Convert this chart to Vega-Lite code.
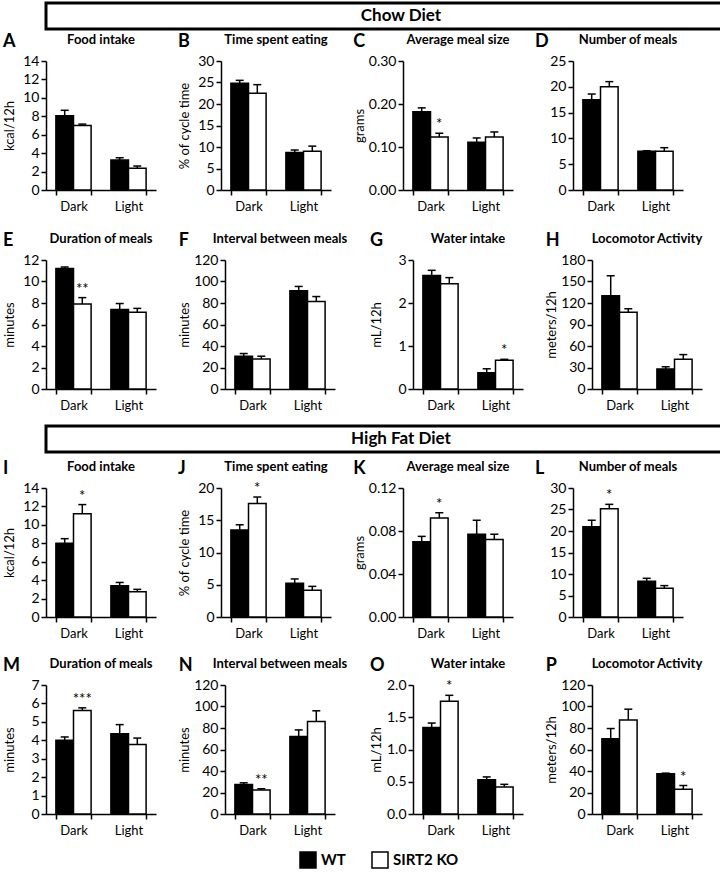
{
  "$schema": "https://vega.github.io/schema/vega-lite/v6.json",
  "padding": {"left": 3, "right": 3, "top": 1, "bottom": 0},
  "background": "white",
  "config": {
    "font": "Lato",
    "view": {"stroke": null},
    "text": {"color": "black"},
    "axis": {"labelFont": "Lato", "titleFont": "Lato", "labelColor": "black", "titleColor": "black", "domainColor": "black", "tickColor": "black", "domainWidth": 1.5, "tickWidth": 1.5, "tickSize": 5, "grid": false, "labelFontSize": 13, "titleFontSize": 13, "titleFontWeight": "normal", "labelOverlap": false},
    "axisX": {"tickBand": "extent", "labelAngle": 0, "labelPadding": 5, "title": null},
    "axisY": {"minExtent": 28, "titlePadding": 2, "labelPadding": 2, "labelFontSize": 14, "labelOverlap": false},
    "title": {"font": "Lato", "color": "black"}
  },
  "datasets": {
    "d": [
      {"p": "A", "period": "Dark", "g": "WT", "mean": 8.05, "hi": 8.65, "star": ""},
      {"p": "A", "period": "Dark", "g": "SIRT2 KO", "mean": 7.0, "hi": 7.15, "star": ""},
      {"p": "A", "period": "Light", "g": "WT", "mean": 3.25, "hi": 3.5, "star": ""},
      {"p": "A", "period": "Light", "g": "SIRT2 KO", "mean": 2.35, "hi": 2.6, "star": ""},
      {"p": "B", "period": "Dark", "g": "WT", "mean": 24.8, "hi": 25.5, "star": ""},
      {"p": "B", "period": "Dark", "g": "SIRT2 KO", "mean": 22.5, "hi": 24.5, "star": ""},
      {"p": "B", "period": "Light", "g": "WT", "mean": 8.7, "hi": 9.3, "star": ""},
      {"p": "B", "period": "Light", "g": "SIRT2 KO", "mean": 9.0, "hi": 10.2, "star": ""},
      {"p": "C", "period": "Dark", "g": "WT", "mean": 0.182, "hi": 0.191, "star": ""},
      {"p": "C", "period": "Dark", "g": "SIRT2 KO", "mean": 0.123, "hi": 0.132, "star": "*"},
      {"p": "C", "period": "Light", "g": "WT", "mean": 0.111, "hi": 0.121, "star": ""},
      {"p": "C", "period": "Light", "g": "SIRT2 KO", "mean": 0.123, "hi": 0.135, "star": ""},
      {"p": "D", "period": "Dark", "g": "WT", "mean": 17.5, "hi": 18.6, "star": ""},
      {"p": "D", "period": "Dark", "g": "SIRT2 KO", "mean": 20.0, "hi": 21.0, "star": ""},
      {"p": "D", "period": "Light", "g": "WT", "mean": 7.5, "hi": 7.6, "star": ""},
      {"p": "D", "period": "Light", "g": "SIRT2 KO", "mean": 7.5, "hi": 8.2, "star": ""},
      {"p": "E", "period": "Dark", "g": "WT", "mean": 11.2, "hi": 11.35, "star": ""},
      {"p": "E", "period": "Dark", "g": "SIRT2 KO", "mean": 7.9, "hi": 8.5, "star": "**"},
      {"p": "E", "period": "Light", "g": "WT", "mean": 7.4, "hi": 7.95, "star": ""},
      {"p": "E", "period": "Light", "g": "SIRT2 KO", "mean": 7.15, "hi": 7.5, "star": ""},
      {"p": "F", "period": "Dark", "g": "WT", "mean": 30.5, "hi": 33.0, "star": ""},
      {"p": "F", "period": "Dark", "g": "SIRT2 KO", "mean": 28.0, "hi": 30.5, "star": ""},
      {"p": "F", "period": "Light", "g": "WT", "mean": 91.4, "hi": 95.4, "star": ""},
      {"p": "F", "period": "Light", "g": "SIRT2 KO", "mean": 81.5, "hi": 86.0, "star": ""},
      {"p": "G", "period": "Dark", "g": "WT", "mean": 2.64, "hi": 2.76, "star": ""},
      {"p": "G", "period": "Dark", "g": "SIRT2 KO", "mean": 2.45, "hi": 2.59, "star": ""},
      {"p": "G", "period": "Light", "g": "WT", "mean": 0.38, "hi": 0.47, "star": ""},
      {"p": "G", "period": "Light", "g": "SIRT2 KO", "mean": 0.67, "hi": 0.69, "star": "*"},
      {"p": "H", "period": "Dark", "g": "WT", "mean": 130, "hi": 158, "star": ""},
      {"p": "H", "period": "Dark", "g": "SIRT2 KO", "mean": 107, "hi": 112, "star": ""},
      {"p": "H", "period": "Light", "g": "WT", "mean": 28, "hi": 31, "star": ""},
      {"p": "H", "period": "Light", "g": "SIRT2 KO", "mean": 41.5, "hi": 48, "star": ""},
      {"p": "I", "period": "Dark", "g": "WT", "mean": 8.0, "hi": 8.5, "star": ""},
      {"p": "I", "period": "Dark", "g": "SIRT2 KO", "mean": 11.2, "hi": 12.2, "star": "*"},
      {"p": "I", "period": "Light", "g": "WT", "mean": 3.4, "hi": 3.75, "star": ""},
      {"p": "I", "period": "Light", "g": "SIRT2 KO", "mean": 2.75, "hi": 3.0, "star": ""},
      {"p": "J", "period": "Dark", "g": "WT", "mean": 13.5, "hi": 14.3, "star": ""},
      {"p": "J", "period": "Dark", "g": "SIRT2 KO", "mean": 17.6, "hi": 18.6, "star": "*"},
      {"p": "J", "period": "Light", "g": "WT", "mean": 5.25, "hi": 5.9, "star": ""},
      {"p": "J", "period": "Light", "g": "SIRT2 KO", "mean": 4.15, "hi": 4.75, "star": ""},
      {"p": "K", "period": "Dark", "g": "WT", "mean": 0.070, "hi": 0.075, "star": ""},
      {"p": "K", "period": "Dark", "g": "SIRT2 KO", "mean": 0.092, "hi": 0.097, "star": "*"},
      {"p": "K", "period": "Light", "g": "WT", "mean": 0.077, "hi": 0.090, "star": ""},
      {"p": "K", "period": "Light", "g": "SIRT2 KO", "mean": 0.072, "hi": 0.077, "star": ""},
      {"p": "L", "period": "Dark", "g": "WT", "mean": 21.0, "hi": 22.5, "star": ""},
      {"p": "L", "period": "Dark", "g": "SIRT2 KO", "mean": 25.2, "hi": 26.2, "star": "*"},
      {"p": "L", "period": "Light", "g": "WT", "mean": 8.3, "hi": 9.0, "star": ""},
      {"p": "L", "period": "Light", "g": "SIRT2 KO", "mean": 6.7, "hi": 7.3, "star": ""},
      {"p": "M", "period": "Dark", "g": "WT", "mean": 4.0, "hi": 4.18, "star": ""},
      {"p": "M", "period": "Dark", "g": "SIRT2 KO", "mean": 5.62, "hi": 5.76, "star": "***"},
      {"p": "M", "period": "Light", "g": "WT", "mean": 4.35, "hi": 4.85, "star": ""},
      {"p": "M", "period": "Light", "g": "SIRT2 KO", "mean": 3.77, "hi": 4.12, "star": ""},
      {"p": "N", "period": "Dark", "g": "WT", "mean": 27.5, "hi": 29.0, "star": ""},
      {"p": "N", "period": "Dark", "g": "SIRT2 KO", "mean": 22.3, "hi": 23.5, "star": "**"},
      {"p": "N", "period": "Light", "g": "WT", "mean": 72.0, "hi": 78.2, "star": ""},
      {"p": "N", "period": "Light", "g": "SIRT2 KO", "mean": 86.0, "hi": 96.0, "star": ""},
      {"p": "O", "period": "Dark", "g": "WT", "mean": 1.34, "hi": 1.41, "star": ""},
      {"p": "O", "period": "Dark", "g": "SIRT2 KO", "mean": 1.75, "hi": 1.84, "star": "*"},
      {"p": "O", "period": "Light", "g": "WT", "mean": 0.53, "hi": 0.575, "star": ""},
      {"p": "O", "period": "Light", "g": "SIRT2 KO", "mean": 0.42, "hi": 0.46, "star": ""},
      {"p": "P", "period": "Dark", "g": "WT", "mean": 70.0, "hi": 79.5, "star": ""},
      {"p": "P", "period": "Dark", "g": "SIRT2 KO", "mean": 87.5, "hi": 97.5, "star": ""},
      {"p": "P", "period": "Light", "g": "WT", "mean": 37.5, "hi": 38.0, "star": ""},
      {"p": "P", "period": "Light", "g": "SIRT2 KO", "mean": 23.0, "hi": 26.5, "star": "*"}
    ]
  },
  "columns": 1,
  "align": "none",
  "spacing": 12,
  "concat": [
    {"columns": 1, "align": "none", "spacing": 2, "concat": [
      {"width": 710, "height": 26, "view": {"stroke": "black", "strokeWidth": 3}, "data": {"values": [{"label": "Chow Diet"}]}, "mark": {"type": "text", "fontSize": 17, "fontWeight": "bold", "font": "Lato"}, "encoding": {"text": {"field": "label"}}},
      {"spacing": 19, "vconcat": [
        {"spacing": 22, "hconcat": [
          {"title": {"text": "A", "anchor": "start", "fontSize": 18, "fontWeight": "bold", "offset": -17}, "vconcat": [{"width": 110, "height": 129, "title": {"text": "Food intake", "frame": "group", "anchor": "middle", "fontSize": 13, "fontWeight": "bold", "offset": 7}, "data": {"name": "d"}, "transform": [{"filter": "datum.p == 'A'"}],
            "encoding": {"x": {"field": "period", "type": "nominal", "sort": ["Dark", "Light"], "scale": {"paddingInner": 0.36, "paddingOuter": 0.18}}, "xOffset": {"field": "g", "type": "nominal", "sort": ["WT", "SIRT2 KO"]}},
            "layer": [
              {"mark": {"type": "bar", "stroke": "black", "strokeWidth": 1.5}, "encoding": {"y": {"field": "mean", "type": "quantitative", "scale": {"domain": [0, 14], "nice": false}, "axis": {"values": [0, 2, 4, 6, 8, 10, 12, 14], "title": "kcal/12h"}}, "fill": {"field": "g", "type": "nominal", "scale": {"domain": ["WT", "SIRT2 KO"], "range": ["black", "white"]}, "legend": null}}},
              {"mark": {"type": "rule", "strokeWidth": 1.5, "color": "black"}, "encoding": {"y": {"field": "mean", "type": "quantitative", "axis": {"values": [0, 2, 4, 6, 8, 10, 12, 14], "title": "kcal/12h"}}, "y2": {"field": "hi"}}},
              {"mark": {"type": "tick", "thickness": 1.5, "size": 8, "color": "black", "orient": "horizontal", "opacity": 1}, "encoding": {"y": {"field": "hi", "type": "quantitative", "axis": {"values": [0, 2, 4, 6, 8, 10, 12, 14], "title": "kcal/12h"}}}},
              {"transform": [{"filter": "datum.star != ''"}], "mark": {"type": "text", "baseline": "bottom", "dy": -1, "fontSize": 15, "color": "black"}, "encoding": {"y": {"field": "hi", "type": "quantitative", "axis": {"values": [0, 2, 4, 6, 8, 10, 12, 14], "title": "kcal/12h"}}, "text": {"field": "star"}}}
            ]}]},
          {"title": {"text": "B", "anchor": "start", "fontSize": 18, "fontWeight": "bold", "offset": -17}, "vconcat": [{"width": 110, "height": 129, "title": {"text": "Time spent eating", "frame": "group", "anchor": "middle", "fontSize": 13, "fontWeight": "bold", "offset": 7}, "data": {"name": "d"}, "transform": [{"filter": "datum.p == 'B'"}],
            "encoding": {"x": {"field": "period", "type": "nominal", "sort": ["Dark", "Light"], "scale": {"paddingInner": 0.36, "paddingOuter": 0.18}}, "xOffset": {"field": "g", "type": "nominal", "sort": ["WT", "SIRT2 KO"]}},
            "layer": [
              {"mark": {"type": "bar", "stroke": "black", "strokeWidth": 1.5}, "encoding": {"y": {"field": "mean", "type": "quantitative", "scale": {"domain": [0, 30], "nice": false}, "axis": {"values": [0, 5, 10, 15, 20, 25, 30], "title": "% of cycle time"}}, "fill": {"field": "g", "type": "nominal", "scale": {"domain": ["WT", "SIRT2 KO"], "range": ["black", "white"]}, "legend": null}}},
              {"mark": {"type": "rule", "strokeWidth": 1.5, "color": "black"}, "encoding": {"y": {"field": "mean", "type": "quantitative", "axis": {"values": [0, 5, 10, 15, 20, 25, 30], "title": "% of cycle time"}}, "y2": {"field": "hi"}}},
              {"mark": {"type": "tick", "thickness": 1.5, "size": 8, "color": "black", "orient": "horizontal", "opacity": 1}, "encoding": {"y": {"field": "hi", "type": "quantitative", "axis": {"values": [0, 5, 10, 15, 20, 25, 30], "title": "% of cycle time"}}}},
              {"transform": [{"filter": "datum.star != ''"}], "mark": {"type": "text", "baseline": "bottom", "dy": -1, "fontSize": 15, "color": "black"}, "encoding": {"y": {"field": "hi", "type": "quantitative", "axis": {"values": [0, 5, 10, 15, 20, 25, 30], "title": "% of cycle time"}}, "text": {"field": "star"}}}
            ]}]},
          {"title": {"text": "C", "anchor": "start", "fontSize": 18, "fontWeight": "bold", "offset": -17}, "vconcat": [{"width": 110, "height": 129, "title": {"text": "Average meal size", "frame": "group", "anchor": "middle", "fontSize": 13, "fontWeight": "bold", "offset": 7}, "data": {"name": "d"}, "transform": [{"filter": "datum.p == 'C'"}],
            "encoding": {"x": {"field": "period", "type": "nominal", "sort": ["Dark", "Light"], "scale": {"paddingInner": 0.36, "paddingOuter": 0.18}}, "xOffset": {"field": "g", "type": "nominal", "sort": ["WT", "SIRT2 KO"]}},
            "layer": [
              {"mark": {"type": "bar", "stroke": "black", "strokeWidth": 1.5}, "encoding": {"y": {"field": "mean", "type": "quantitative", "scale": {"domain": [0, 0.3], "nice": false}, "axis": {"values": [0, 0.1, 0.2, 0.3], "format": ".2f", "title": "grams"}}, "fill": {"field": "g", "type": "nominal", "scale": {"domain": ["WT", "SIRT2 KO"], "range": ["black", "white"]}, "legend": null}}},
              {"mark": {"type": "rule", "strokeWidth": 1.5, "color": "black"}, "encoding": {"y": {"field": "mean", "type": "quantitative", "axis": {"values": [0, 0.1, 0.2, 0.3], "format": ".2f", "title": "grams"}}, "y2": {"field": "hi"}}},
              {"mark": {"type": "tick", "thickness": 1.5, "size": 8, "color": "black", "orient": "horizontal", "opacity": 1}, "encoding": {"y": {"field": "hi", "type": "quantitative", "axis": {"values": [0, 0.1, 0.2, 0.3], "format": ".2f", "title": "grams"}}}},
              {"transform": [{"filter": "datum.star != ''"}], "mark": {"type": "text", "baseline": "bottom", "dy": -1, "fontSize": 15, "color": "black"}, "encoding": {"y": {"field": "hi", "type": "quantitative", "axis": {"values": [0, 0.1, 0.2, 0.3], "format": ".2f", "title": "grams"}}, "text": {"field": "star"}}}
            ]}]},
          {"title": {"text": "D", "anchor": "start", "fontSize": 18, "fontWeight": "bold", "offset": -17}, "vconcat": [{"width": 110, "height": 129, "title": {"text": "Number of meals", "frame": "group", "anchor": "middle", "fontSize": 13, "fontWeight": "bold", "offset": 7}, "data": {"name": "d"}, "transform": [{"filter": "datum.p == 'D'"}],
            "encoding": {"x": {"field": "period", "type": "nominal", "sort": ["Dark", "Light"], "scale": {"paddingInner": 0.36, "paddingOuter": 0.18}}, "xOffset": {"field": "g", "type": "nominal", "sort": ["WT", "SIRT2 KO"]}},
            "layer": [
              {"mark": {"type": "bar", "stroke": "black", "strokeWidth": 1.5}, "encoding": {"y": {"field": "mean", "type": "quantitative", "scale": {"domain": [0, 25], "nice": false}, "axis": {"values": [0, 5, 10, 15, 20, 25], "title": null, "minExtent": 38}}, "fill": {"field": "g", "type": "nominal", "scale": {"domain": ["WT", "SIRT2 KO"], "range": ["black", "white"]}, "legend": null}}},
              {"mark": {"type": "rule", "strokeWidth": 1.5, "color": "black"}, "encoding": {"y": {"field": "mean", "type": "quantitative", "axis": {"values": [0, 5, 10, 15, 20, 25], "title": null, "minExtent": 38}}, "y2": {"field": "hi"}}},
              {"mark": {"type": "tick", "thickness": 1.5, "size": 8, "color": "black", "orient": "horizontal", "opacity": 1}, "encoding": {"y": {"field": "hi", "type": "quantitative", "axis": {"values": [0, 5, 10, 15, 20, 25], "title": null, "minExtent": 38}}}},
              {"transform": [{"filter": "datum.star != ''"}], "mark": {"type": "text", "baseline": "bottom", "dy": -1, "fontSize": 15, "color": "black"}, "encoding": {"y": {"field": "hi", "type": "quantitative", "axis": {"values": [0, 5, 10, 15, 20, 25], "title": null, "minExtent": 38}}, "text": {"field": "star"}}}
            ]}]}
        ]},
        {"spacing": 22, "hconcat": [
          {"title": {"text": "E", "anchor": "start", "fontSize": 18, "fontWeight": "bold", "offset": -17}, "vconcat": [{"width": 110, "height": 129, "title": {"text": "Duration of meals", "frame": "group", "anchor": "middle", "fontSize": 13, "fontWeight": "bold", "offset": 7}, "data": {"name": "d"}, "transform": [{"filter": "datum.p == 'E'"}],
            "encoding": {"x": {"field": "period", "type": "nominal", "sort": ["Dark", "Light"], "scale": {"paddingInner": 0.36, "paddingOuter": 0.18}}, "xOffset": {"field": "g", "type": "nominal", "sort": ["WT", "SIRT2 KO"]}},
            "layer": [
              {"mark": {"type": "bar", "stroke": "black", "strokeWidth": 1.5}, "encoding": {"y": {"field": "mean", "type": "quantitative", "scale": {"domain": [0, 12], "nice": false}, "axis": {"values": [0, 2, 4, 6, 8, 10, 12], "title": "minutes"}}, "fill": {"field": "g", "type": "nominal", "scale": {"domain": ["WT", "SIRT2 KO"], "range": ["black", "white"]}, "legend": null}}},
              {"mark": {"type": "rule", "strokeWidth": 1.5, "color": "black"}, "encoding": {"y": {"field": "mean", "type": "quantitative", "axis": {"values": [0, 2, 4, 6, 8, 10, 12], "title": "minutes"}}, "y2": {"field": "hi"}}},
              {"mark": {"type": "tick", "thickness": 1.5, "size": 8, "color": "black", "orient": "horizontal", "opacity": 1}, "encoding": {"y": {"field": "hi", "type": "quantitative", "axis": {"values": [0, 2, 4, 6, 8, 10, 12], "title": "minutes"}}}},
              {"transform": [{"filter": "datum.star != ''"}], "mark": {"type": "text", "baseline": "bottom", "dy": -1, "fontSize": 15, "color": "black"}, "encoding": {"y": {"field": "hi", "type": "quantitative", "axis": {"values": [0, 2, 4, 6, 8, 10, 12], "title": "minutes"}}, "text": {"field": "star"}}}
            ]}]},
          {"title": {"text": "F", "anchor": "start", "fontSize": 18, "fontWeight": "bold", "offset": -17}, "vconcat": [{"width": 110, "height": 129, "title": {"text": "Interval between meals", "frame": "group", "anchor": "middle", "fontSize": 13, "fontWeight": "bold", "offset": 7}, "data": {"name": "d"}, "transform": [{"filter": "datum.p == 'F'"}],
            "encoding": {"x": {"field": "period", "type": "nominal", "sort": ["Dark", "Light"], "scale": {"paddingInner": 0.36, "paddingOuter": 0.18}}, "xOffset": {"field": "g", "type": "nominal", "sort": ["WT", "SIRT2 KO"]}},
            "layer": [
              {"mark": {"type": "bar", "stroke": "black", "strokeWidth": 1.5}, "encoding": {"y": {"field": "mean", "type": "quantitative", "scale": {"domain": [0, 120], "nice": false}, "axis": {"values": [0, 20, 40, 60, 80, 100, 120], "title": "minutes"}}, "fill": {"field": "g", "type": "nominal", "scale": {"domain": ["WT", "SIRT2 KO"], "range": ["black", "white"]}, "legend": null}}},
              {"mark": {"type": "rule", "strokeWidth": 1.5, "color": "black"}, "encoding": {"y": {"field": "mean", "type": "quantitative", "axis": {"values": [0, 20, 40, 60, 80, 100, 120], "title": "minutes"}}, "y2": {"field": "hi"}}},
              {"mark": {"type": "tick", "thickness": 1.5, "size": 8, "color": "black", "orient": "horizontal", "opacity": 1}, "encoding": {"y": {"field": "hi", "type": "quantitative", "axis": {"values": [0, 20, 40, 60, 80, 100, 120], "title": "minutes"}}}},
              {"transform": [{"filter": "datum.star != ''"}], "mark": {"type": "text", "baseline": "bottom", "dy": -1, "fontSize": 15, "color": "black"}, "encoding": {"y": {"field": "hi", "type": "quantitative", "axis": {"values": [0, 20, 40, 60, 80, 100, 120], "title": "minutes"}}, "text": {"field": "star"}}}
            ]}]},
          {"title": {"text": "G", "anchor": "start", "fontSize": 18, "fontWeight": "bold", "offset": -17}, "vconcat": [{"width": 110, "height": 129, "title": {"text": "Water intake", "frame": "group", "anchor": "middle", "fontSize": 13, "fontWeight": "bold", "offset": 7}, "data": {"name": "d"}, "transform": [{"filter": "datum.p == 'G'"}],
            "encoding": {"x": {"field": "period", "type": "nominal", "sort": ["Dark", "Light"], "scale": {"paddingInner": 0.36, "paddingOuter": 0.18}}, "xOffset": {"field": "g", "type": "nominal", "sort": ["WT", "SIRT2 KO"]}},
            "layer": [
              {"mark": {"type": "bar", "stroke": "black", "strokeWidth": 1.5}, "encoding": {"y": {"field": "mean", "type": "quantitative", "scale": {"domain": [0, 3], "nice": false}, "axis": {"values": [0, 1, 2, 3], "title": "mL/12h"}}, "fill": {"field": "g", "type": "nominal", "scale": {"domain": ["WT", "SIRT2 KO"], "range": ["black", "white"]}, "legend": null}}},
              {"mark": {"type": "rule", "strokeWidth": 1.5, "color": "black"}, "encoding": {"y": {"field": "mean", "type": "quantitative", "axis": {"values": [0, 1, 2, 3], "title": "mL/12h"}}, "y2": {"field": "hi"}}},
              {"mark": {"type": "tick", "thickness": 1.5, "size": 8, "color": "black", "orient": "horizontal", "opacity": 1}, "encoding": {"y": {"field": "hi", "type": "quantitative", "axis": {"values": [0, 1, 2, 3], "title": "mL/12h"}}}},
              {"transform": [{"filter": "datum.star != ''"}], "mark": {"type": "text", "baseline": "bottom", "dy": -1, "fontSize": 15, "color": "black"}, "encoding": {"y": {"field": "hi", "type": "quantitative", "axis": {"values": [0, 1, 2, 3], "title": "mL/12h"}}, "text": {"field": "star"}}}
            ]}]},
          {"title": {"text": "H", "anchor": "start", "fontSize": 18, "fontWeight": "bold", "offset": -17}, "vconcat": [{"width": 110, "height": 129, "title": {"text": "Locomotor Activity", "frame": "group", "anchor": "middle", "fontSize": 13, "fontWeight": "bold", "offset": 7}, "data": {"name": "d"}, "transform": [{"filter": "datum.p == 'H'"}],
            "encoding": {"x": {"field": "period", "type": "nominal", "sort": ["Dark", "Light"], "scale": {"paddingInner": 0.36, "paddingOuter": 0.18}}, "xOffset": {"field": "g", "type": "nominal", "sort": ["WT", "SIRT2 KO"]}},
            "layer": [
              {"mark": {"type": "bar", "stroke": "black", "strokeWidth": 1.5}, "encoding": {"y": {"field": "mean", "type": "quantitative", "scale": {"domain": [0, 180], "nice": false}, "axis": {"values": [0, 30, 60, 90, 120, 150, 180], "title": "meters/12h"}}, "fill": {"field": "g", "type": "nominal", "scale": {"domain": ["WT", "SIRT2 KO"], "range": ["black", "white"]}, "legend": null}}},
              {"mark": {"type": "rule", "strokeWidth": 1.5, "color": "black"}, "encoding": {"y": {"field": "mean", "type": "quantitative", "axis": {"values": [0, 30, 60, 90, 120, 150, 180], "title": "meters/12h"}}, "y2": {"field": "hi"}}},
              {"mark": {"type": "tick", "thickness": 1.5, "size": 8, "color": "black", "orient": "horizontal", "opacity": 1}, "encoding": {"y": {"field": "hi", "type": "quantitative", "axis": {"values": [0, 30, 60, 90, 120, 150, 180], "title": "meters/12h"}}}},
              {"transform": [{"filter": "datum.star != ''"}], "mark": {"type": "text", "baseline": "bottom", "dy": -1, "fontSize": 15, "color": "black"}, "encoding": {"y": {"field": "hi", "type": "quantitative", "axis": {"values": [0, 30, 60, 90, 120, 150, 180], "title": "meters/12h"}}, "text": {"field": "star"}}}
            ]}]}
        ]}
      ]}
    ]},
    {"columns": 1, "align": "none", "spacing": 6, "concat": [
      {"width": 710, "height": 26, "view": {"stroke": "black", "strokeWidth": 3}, "data": {"values": [{"label": "High Fat Diet"}]}, "mark": {"type": "text", "fontSize": 17, "fontWeight": "bold", "font": "Lato"}, "encoding": {"text": {"field": "label"}}},
      {"spacing": 17, "vconcat": [
        {"spacing": 22, "hconcat": [
          {"title": {"text": "I", "anchor": "start", "fontSize": 18, "fontWeight": "bold", "offset": -17}, "vconcat": [{"width": 110, "height": 129, "title": {"text": "Food intake", "frame": "group", "anchor": "middle", "fontSize": 13, "fontWeight": "bold", "offset": 7}, "data": {"name": "d"}, "transform": [{"filter": "datum.p == 'I'"}],
            "encoding": {"x": {"field": "period", "type": "nominal", "sort": ["Dark", "Light"], "scale": {"paddingInner": 0.36, "paddingOuter": 0.18}}, "xOffset": {"field": "g", "type": "nominal", "sort": ["WT", "SIRT2 KO"]}},
            "layer": [
              {"mark": {"type": "bar", "stroke": "black", "strokeWidth": 1.5}, "encoding": {"y": {"field": "mean", "type": "quantitative", "scale": {"domain": [0, 14], "nice": false}, "axis": {"values": [0, 2, 4, 6, 8, 10, 12, 14], "title": "kcal/12h"}}, "fill": {"field": "g", "type": "nominal", "scale": {"domain": ["WT", "SIRT2 KO"], "range": ["black", "white"]}, "legend": null}}},
              {"mark": {"type": "rule", "strokeWidth": 1.5, "color": "black"}, "encoding": {"y": {"field": "mean", "type": "quantitative", "axis": {"values": [0, 2, 4, 6, 8, 10, 12, 14], "title": "kcal/12h"}}, "y2": {"field": "hi"}}},
              {"mark": {"type": "tick", "thickness": 1.5, "size": 8, "color": "black", "orient": "horizontal", "opacity": 1}, "encoding": {"y": {"field": "hi", "type": "quantitative", "axis": {"values": [0, 2, 4, 6, 8, 10, 12, 14], "title": "kcal/12h"}}}},
              {"transform": [{"filter": "datum.star != ''"}], "mark": {"type": "text", "baseline": "bottom", "dy": -1, "fontSize": 15, "color": "black"}, "encoding": {"y": {"field": "hi", "type": "quantitative", "axis": {"values": [0, 2, 4, 6, 8, 10, 12, 14], "title": "kcal/12h"}}, "text": {"field": "star"}}}
            ]}]},
          {"title": {"text": "J", "anchor": "start", "fontSize": 18, "fontWeight": "bold", "offset": -17}, "vconcat": [{"width": 110, "height": 129, "title": {"text": "Time spent eating", "frame": "group", "anchor": "middle", "fontSize": 13, "fontWeight": "bold", "offset": 7}, "data": {"name": "d"}, "transform": [{"filter": "datum.p == 'J'"}],
            "encoding": {"x": {"field": "period", "type": "nominal", "sort": ["Dark", "Light"], "scale": {"paddingInner": 0.36, "paddingOuter": 0.18}}, "xOffset": {"field": "g", "type": "nominal", "sort": ["WT", "SIRT2 KO"]}},
            "layer": [
              {"mark": {"type": "bar", "stroke": "black", "strokeWidth": 1.5}, "encoding": {"y": {"field": "mean", "type": "quantitative", "scale": {"domain": [0, 20], "nice": false}, "axis": {"values": [0, 5, 10, 15, 20], "title": "% of cycle time"}}, "fill": {"field": "g", "type": "nominal", "scale": {"domain": ["WT", "SIRT2 KO"], "range": ["black", "white"]}, "legend": null}}},
              {"mark": {"type": "rule", "strokeWidth": 1.5, "color": "black"}, "encoding": {"y": {"field": "mean", "type": "quantitative", "axis": {"values": [0, 5, 10, 15, 20], "title": "% of cycle time"}}, "y2": {"field": "hi"}}},
              {"mark": {"type": "tick", "thickness": 1.5, "size": 8, "color": "black", "orient": "horizontal", "opacity": 1}, "encoding": {"y": {"field": "hi", "type": "quantitative", "axis": {"values": [0, 5, 10, 15, 20], "title": "% of cycle time"}}}},
              {"transform": [{"filter": "datum.star != ''"}], "mark": {"type": "text", "baseline": "bottom", "dy": -1, "fontSize": 15, "color": "black"}, "encoding": {"y": {"field": "hi", "type": "quantitative", "axis": {"values": [0, 5, 10, 15, 20], "title": "% of cycle time"}}, "text": {"field": "star"}}}
            ]}]},
          {"title": {"text": "K", "anchor": "start", "fontSize": 18, "fontWeight": "bold", "offset": -17}, "vconcat": [{"width": 110, "height": 129, "title": {"text": "Average meal size", "frame": "group", "anchor": "middle", "fontSize": 13, "fontWeight": "bold", "offset": 7}, "data": {"name": "d"}, "transform": [{"filter": "datum.p == 'K'"}],
            "encoding": {"x": {"field": "period", "type": "nominal", "sort": ["Dark", "Light"], "scale": {"paddingInner": 0.36, "paddingOuter": 0.18}}, "xOffset": {"field": "g", "type": "nominal", "sort": ["WT", "SIRT2 KO"]}},
            "layer": [
              {"mark": {"type": "bar", "stroke": "black", "strokeWidth": 1.5}, "encoding": {"y": {"field": "mean", "type": "quantitative", "scale": {"domain": [0, 0.12], "nice": false}, "axis": {"values": [0, 0.04, 0.08, 0.12], "format": ".2f", "title": "grams"}}, "fill": {"field": "g", "type": "nominal", "scale": {"domain": ["WT", "SIRT2 KO"], "range": ["black", "white"]}, "legend": null}}},
              {"mark": {"type": "rule", "strokeWidth": 1.5, "color": "black"}, "encoding": {"y": {"field": "mean", "type": "quantitative", "axis": {"values": [0, 0.04, 0.08, 0.12], "format": ".2f", "title": "grams"}}, "y2": {"field": "hi"}}},
              {"mark": {"type": "tick", "thickness": 1.5, "size": 8, "color": "black", "orient": "horizontal", "opacity": 1}, "encoding": {"y": {"field": "hi", "type": "quantitative", "axis": {"values": [0, 0.04, 0.08, 0.12], "format": ".2f", "title": "grams"}}}},
              {"transform": [{"filter": "datum.star != ''"}], "mark": {"type": "text", "baseline": "bottom", "dy": -1, "fontSize": 15, "color": "black"}, "encoding": {"y": {"field": "hi", "type": "quantitative", "axis": {"values": [0, 0.04, 0.08, 0.12], "format": ".2f", "title": "grams"}}, "text": {"field": "star"}}}
            ]}]},
          {"title": {"text": "L", "anchor": "start", "fontSize": 18, "fontWeight": "bold", "offset": -17}, "vconcat": [{"width": 110, "height": 129, "title": {"text": "Number of meals", "frame": "group", "anchor": "middle", "fontSize": 13, "fontWeight": "bold", "offset": 7}, "data": {"name": "d"}, "transform": [{"filter": "datum.p == 'L'"}],
            "encoding": {"x": {"field": "period", "type": "nominal", "sort": ["Dark", "Light"], "scale": {"paddingInner": 0.36, "paddingOuter": 0.18}}, "xOffset": {"field": "g", "type": "nominal", "sort": ["WT", "SIRT2 KO"]}},
            "layer": [
              {"mark": {"type": "bar", "stroke": "black", "strokeWidth": 1.5}, "encoding": {"y": {"field": "mean", "type": "quantitative", "scale": {"domain": [0, 30], "nice": false}, "axis": {"values": [0, 5, 10, 15, 20, 25, 30], "title": null, "minExtent": 38}}, "fill": {"field": "g", "type": "nominal", "scale": {"domain": ["WT", "SIRT2 KO"], "range": ["black", "white"]}, "legend": null}}},
              {"mark": {"type": "rule", "strokeWidth": 1.5, "color": "black"}, "encoding": {"y": {"field": "mean", "type": "quantitative", "axis": {"values": [0, 5, 10, 15, 20, 25, 30], "title": null, "minExtent": 38}}, "y2": {"field": "hi"}}},
              {"mark": {"type": "tick", "thickness": 1.5, "size": 8, "color": "black", "orient": "horizontal", "opacity": 1}, "encoding": {"y": {"field": "hi", "type": "quantitative", "axis": {"values": [0, 5, 10, 15, 20, 25, 30], "title": null, "minExtent": 38}}}},
              {"transform": [{"filter": "datum.star != ''"}], "mark": {"type": "text", "baseline": "bottom", "dy": -1, "fontSize": 15, "color": "black"}, "encoding": {"y": {"field": "hi", "type": "quantitative", "axis": {"values": [0, 5, 10, 15, 20, 25, 30], "title": null, "minExtent": 38}}, "text": {"field": "star"}}}
            ]}]}
        ]},
        {"spacing": 22, "hconcat": [
          {"title": {"text": "M", "anchor": "start", "fontSize": 18, "fontWeight": "bold", "offset": -17}, "vconcat": [{"width": 110, "height": 129, "title": {"text": "Duration of meals", "frame": "group", "anchor": "middle", "fontSize": 13, "fontWeight": "bold", "offset": 7}, "data": {"name": "d"}, "transform": [{"filter": "datum.p == 'M'"}],
            "encoding": {"x": {"field": "period", "type": "nominal", "sort": ["Dark", "Light"], "scale": {"paddingInner": 0.36, "paddingOuter": 0.18}}, "xOffset": {"field": "g", "type": "nominal", "sort": ["WT", "SIRT2 KO"]}},
            "layer": [
              {"mark": {"type": "bar", "stroke": "black", "strokeWidth": 1.5}, "encoding": {"y": {"field": "mean", "type": "quantitative", "scale": {"domain": [0, 7], "nice": false}, "axis": {"values": [0, 1, 2, 3, 4, 5, 6, 7], "title": "minutes"}}, "fill": {"field": "g", "type": "nominal", "scale": {"domain": ["WT", "SIRT2 KO"], "range": ["black", "white"]}, "legend": null}}},
              {"mark": {"type": "rule", "strokeWidth": 1.5, "color": "black"}, "encoding": {"y": {"field": "mean", "type": "quantitative", "axis": {"values": [0, 1, 2, 3, 4, 5, 6, 7], "title": "minutes"}}, "y2": {"field": "hi"}}},
              {"mark": {"type": "tick", "thickness": 1.5, "size": 8, "color": "black", "orient": "horizontal", "opacity": 1}, "encoding": {"y": {"field": "hi", "type": "quantitative", "axis": {"values": [0, 1, 2, 3, 4, 5, 6, 7], "title": "minutes"}}}},
              {"transform": [{"filter": "datum.star != ''"}], "mark": {"type": "text", "baseline": "bottom", "dy": -1, "fontSize": 15, "color": "black"}, "encoding": {"y": {"field": "hi", "type": "quantitative", "axis": {"values": [0, 1, 2, 3, 4, 5, 6, 7], "title": "minutes"}}, "text": {"field": "star"}}}
            ]}]},
          {"title": {"text": "N", "anchor": "start", "fontSize": 18, "fontWeight": "bold", "offset": -17}, "vconcat": [{"width": 110, "height": 129, "title": {"text": "Interval between meals", "frame": "group", "anchor": "middle", "fontSize": 13, "fontWeight": "bold", "offset": 7}, "data": {"name": "d"}, "transform": [{"filter": "datum.p == 'N'"}],
            "encoding": {"x": {"field": "period", "type": "nominal", "sort": ["Dark", "Light"], "scale": {"paddingInner": 0.36, "paddingOuter": 0.18}}, "xOffset": {"field": "g", "type": "nominal", "sort": ["WT", "SIRT2 KO"]}},
            "layer": [
              {"mark": {"type": "bar", "stroke": "black", "strokeWidth": 1.5}, "encoding": {"y": {"field": "mean", "type": "quantitative", "scale": {"domain": [0, 120], "nice": false}, "axis": {"values": [0, 20, 40, 60, 80, 100, 120], "title": "minutes"}}, "fill": {"field": "g", "type": "nominal", "scale": {"domain": ["WT", "SIRT2 KO"], "range": ["black", "white"]}, "legend": null}}},
              {"mark": {"type": "rule", "strokeWidth": 1.5, "color": "black"}, "encoding": {"y": {"field": "mean", "type": "quantitative", "axis": {"values": [0, 20, 40, 60, 80, 100, 120], "title": "minutes"}}, "y2": {"field": "hi"}}},
              {"mark": {"type": "tick", "thickness": 1.5, "size": 8, "color": "black", "orient": "horizontal", "opacity": 1}, "encoding": {"y": {"field": "hi", "type": "quantitative", "axis": {"values": [0, 20, 40, 60, 80, 100, 120], "title": "minutes"}}}},
              {"transform": [{"filter": "datum.star != ''"}], "mark": {"type": "text", "baseline": "bottom", "dy": -1, "fontSize": 15, "color": "black"}, "encoding": {"y": {"field": "hi", "type": "quantitative", "axis": {"values": [0, 20, 40, 60, 80, 100, 120], "title": "minutes"}}, "text": {"field": "star"}}}
            ]}]},
          {"title": {"text": "O", "anchor": "start", "fontSize": 18, "fontWeight": "bold", "offset": -17}, "vconcat": [{"width": 110, "height": 129, "title": {"text": "Water intake", "frame": "group", "anchor": "middle", "fontSize": 13, "fontWeight": "bold", "offset": 7}, "data": {"name": "d"}, "transform": [{"filter": "datum.p == 'O'"}],
            "encoding": {"x": {"field": "period", "type": "nominal", "sort": ["Dark", "Light"], "scale": {"paddingInner": 0.36, "paddingOuter": 0.18}}, "xOffset": {"field": "g", "type": "nominal", "sort": ["WT", "SIRT2 KO"]}},
            "layer": [
              {"mark": {"type": "bar", "stroke": "black", "strokeWidth": 1.5}, "encoding": {"y": {"field": "mean", "type": "quantitative", "scale": {"domain": [0, 2], "nice": false}, "axis": {"values": [0, 0.5, 1, 1.5, 2], "format": ".1f", "title": "mL/12h"}}, "fill": {"field": "g", "type": "nominal", "scale": {"domain": ["WT", "SIRT2 KO"], "range": ["black", "white"]}, "legend": null}}},
              {"mark": {"type": "rule", "strokeWidth": 1.5, "color": "black"}, "encoding": {"y": {"field": "mean", "type": "quantitative", "axis": {"values": [0, 0.5, 1, 1.5, 2], "format": ".1f", "title": "mL/12h"}}, "y2": {"field": "hi"}}},
              {"mark": {"type": "tick", "thickness": 1.5, "size": 8, "color": "black", "orient": "horizontal", "opacity": 1}, "encoding": {"y": {"field": "hi", "type": "quantitative", "axis": {"values": [0, 0.5, 1, 1.5, 2], "format": ".1f", "title": "mL/12h"}}}},
              {"transform": [{"filter": "datum.star != ''"}], "mark": {"type": "text", "baseline": "bottom", "dy": -1, "fontSize": 15, "color": "black"}, "encoding": {"y": {"field": "hi", "type": "quantitative", "axis": {"values": [0, 0.5, 1, 1.5, 2], "format": ".1f", "title": "mL/12h"}}, "text": {"field": "star"}}}
            ]}]},
          {"title": {"text": "P", "anchor": "start", "fontSize": 18, "fontWeight": "bold", "offset": -17}, "vconcat": [{"width": 110, "height": 129, "title": {"text": "Locomotor Activity", "frame": "group", "anchor": "middle", "fontSize": 13, "fontWeight": "bold", "offset": 7}, "data": {"name": "d"}, "transform": [{"filter": "datum.p == 'P'"}],
            "encoding": {"x": {"field": "period", "type": "nominal", "sort": ["Dark", "Light"], "scale": {"paddingInner": 0.36, "paddingOuter": 0.18}}, "xOffset": {"field": "g", "type": "nominal", "sort": ["WT", "SIRT2 KO"]}},
            "layer": [
              {"mark": {"type": "bar", "stroke": "black", "strokeWidth": 1.5}, "encoding": {"y": {"field": "mean", "type": "quantitative", "scale": {"domain": [0, 120], "nice": false}, "axis": {"values": [0, 20, 40, 60, 80, 100, 120], "title": "meters/12h"}}, "fill": {"field": "g", "type": "nominal", "scale": {"domain": ["WT", "SIRT2 KO"], "range": ["black", "white"]}, "legend": null}}},
              {"mark": {"type": "rule", "strokeWidth": 1.5, "color": "black"}, "encoding": {"y": {"field": "mean", "type": "quantitative", "axis": {"values": [0, 20, 40, 60, 80, 100, 120], "title": "meters/12h"}}, "y2": {"field": "hi"}}},
              {"mark": {"type": "tick", "thickness": 1.5, "size": 8, "color": "black", "orient": "horizontal", "opacity": 1}, "encoding": {"y": {"field": "hi", "type": "quantitative", "axis": {"values": [0, 20, 40, 60, 80, 100, 120], "title": "meters/12h"}}}},
              {"transform": [{"filter": "datum.star != ''"}], "mark": {"type": "text", "baseline": "bottom", "dy": -1, "fontSize": 15, "color": "black"}, "encoding": {"y": {"field": "hi", "type": "quantitative", "axis": {"values": [0, 20, 40, 60, 80, 100, 120], "title": "meters/12h"}}, "text": {"field": "star"}}}
            ]}]}
        ]}
      ]}
    ]},
    {"width": 710, "height": 18, "data": {"values": [{"g": "WT"}, {"g": "SIRT2 KO"}]},
      "encoding": {"x": {"field": "g", "type": "nominal", "sort": ["WT", "SIRT2 KO"], "axis": null, "scale": {"type": "point", "range": [262, 334], "padding": 0}}},
      "layer": [
        {"mark": {"type": "square", "size": 256, "stroke": "black", "strokeWidth": 1.5, "opacity": 1}, "encoding": {"fill": {"field": "g", "type": "nominal", "scale": {"domain": ["WT", "SIRT2 KO"], "range": ["black", "white"]}, "legend": null}}},
        {"mark": {"type": "text", "align": "left", "dx": 13, "fontSize": 15, "fontWeight": "bold", "color": "black"}, "encoding": {"text": {"field": "g"}}}
      ]}
  ]
}
